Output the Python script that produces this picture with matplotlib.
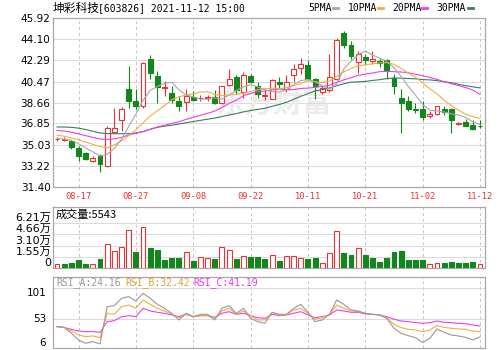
import numpy as np
import matplotlib.pyplot as plt
from matplotlib.lines import Line2D

# daily bars 2021-08-12 .. 2021-11-12
opens = [35.48, 35.45, 35.30, 34.75, 34.28, 33.63, 34.03, 33.16, 36.13, 37.11,
         39.85, 38.78, 38.34, 42.44, 40.94, 39.95, 39.44, 38.83, 38.69, 39.12,
         39.02, 39.08, 39.12, 38.58, 40.13, 40.85, 39.55, 40.94, 40.07, 39.20,
         38.98, 40.45, 39.79, 40.99, 41.66, 41.86, 40.65, 39.55, 39.72, 40.71,
         44.68, 43.59, 42.15, 42.58, 42.20, 42.20, 42.32, 40.80, 39.07, 38.78,
         38.10, 38.12, 37.48, 37.71, 38.12, 38.06, 36.82, 36.96, 36.74, 36.65]
highs = [35.70, 35.72, 35.45, 34.90, 34.40, 34.05, 34.20, 36.60, 38.20, 38.30,
         41.80, 39.85, 42.15, 42.75, 41.37, 40.50, 40.07, 39.20, 39.85, 39.64,
         39.30, 39.30, 39.72, 40.10, 41.57, 41.00, 41.28, 41.10, 40.42, 39.80,
         40.70, 40.88, 41.05, 41.94, 42.52, 42.30, 40.80, 40.10, 42.81, 44.20,
         44.82, 43.96, 43.10, 42.81, 43.10, 42.45, 42.40, 41.08, 39.85, 39.20,
         38.60, 38.83, 37.90, 38.40, 38.40, 38.20, 37.00, 37.20, 37.19, 37.19]
lows = [35.35, 35.30, 34.65, 33.60, 33.66, 33.50, 32.64, 33.10, 36.00, 36.20,
        38.20, 38.06, 38.20, 40.65, 38.66, 39.20, 38.63, 37.91, 37.91, 38.78,
        38.80, 38.80, 38.55, 38.50, 40.07, 39.35, 39.07, 40.30, 39.07, 38.90,
        38.93, 39.94, 39.55, 40.40, 41.08, 40.65, 38.98, 39.35, 39.60, 40.60,
        43.39, 42.40, 41.23, 41.90, 41.95, 41.75, 40.71, 39.35, 36.05, 37.96,
        37.75, 37.19, 37.30, 37.60, 37.60, 36.05, 36.70, 36.60, 36.27, 36.50]
closes = [35.55, 35.50, 34.80, 34.03, 33.82, 33.91, 33.37, 36.42, 36.45, 38.06,
          38.78, 38.34, 42.03, 41.17, 40.02, 40.00, 38.86, 38.34, 39.20, 38.86,
          39.07, 39.12, 38.63, 40.07, 40.71, 39.72, 40.99, 40.42, 39.35, 39.30,
          40.56, 40.22, 40.45, 41.51, 42.00, 40.71, 40.07, 39.94, 40.88, 44.05,
          43.59, 42.66, 42.81, 42.32, 42.40, 42.10, 41.45, 40.07, 38.63, 38.12,
          38.03, 37.43, 37.63, 38.34, 37.83, 37.19, 36.87, 36.67, 36.39, 36.60]

volumes = [5600, 4650, 7000, 11200, 4650, 5600, 12100, 33500, 23250, 28800,
           52500, 21400, 56300, 27000, 24600, 10700, 14000, 14000, 21400, 9300,
           14900, 14000, 12100, 28400, 24600, 12100, 16700, 15300, 14900, 11600,
           17700, 9800, 15800, 16300, 13000, 12100, 13000, 6500, 20000, 51150,
           20000, 17700, 27000, 17700, 14000, 8400, 13000, 21400, 23250, 10200,
           10200, 10700, 5600, 6000, 7000, 7900, 7000, 7000, 7900, 5543]
vol_up = [1, 0, 0, 0, 0, 1, 0, 1, 1, 1, 1, 0, 1, 0, 0, 0, 0, 0, 1, 0,
          1, 1, 0, 1, 1, 0, 1, 0, 0, 0, 1, 0, 1, 1, 1, 0, 0, 1, 1, 1,
          0, 0, 1, 0, 0, 0, 0, 0, 0, 0, 0, 0, 1, 1, 0, 0, 0, 0, 0, 1]

ma5 = [35.55, 35.50, 35.40, 35.10, 34.75, 34.40, 34.05, 34.20, 34.70, 35.50,
       36.60, 37.65, 38.85, 39.70, 40.05, 40.30, 40.40, 39.75, 39.30, 39.15,
       38.95, 38.95, 39.05, 38.95, 39.30, 39.70, 40.00, 40.20, 40.00, 39.75,
       39.60, 39.55, 39.75, 40.20, 40.55, 40.65, 40.45, 40.10, 39.80, 40.25,
       41.55, 42.20, 42.80, 43.10, 42.75, 42.50, 42.22, 41.67, 40.90, 40.05,
       39.30, 38.50, 38.00, 37.92, 37.85, 37.68, 37.57, 37.38, 37.00, 36.75]
ma10 = [35.85, 35.75, 35.60, 35.45, 35.25, 35.05, 34.85, 34.75, 35.00, 35.35,
        35.80, 36.30, 36.90, 37.50, 37.95, 38.40, 38.90, 39.15, 39.30, 39.40,
        39.55, 39.60, 39.35, 39.25, 39.30, 39.35, 39.47, 39.60, 39.75, 39.85,
        39.89, 39.85, 39.95, 40.10, 40.30, 40.55, 40.45, 40.40, 40.50, 40.90,
        41.30, 41.60, 41.80, 41.92, 42.00, 42.08, 42.10, 41.95, 41.60, 41.20,
        40.85, 40.35, 39.85, 39.40, 38.85, 38.40, 38.00, 37.65, 37.45, 37.30]
ma20 = [36.25, 36.20, 36.10, 35.95, 35.80, 35.65, 35.52, 35.48, 35.52, 35.65,
        35.85, 36.00, 36.15, 36.35, 36.55, 36.70, 36.85, 37.00, 37.20, 37.38,
        37.55, 37.73, 37.92, 38.23, 38.57, 38.86, 39.24, 39.44, 39.59, 39.65,
        39.74, 39.83, 39.75, 39.77, 39.87, 39.90, 39.97, 40.05, 40.13, 40.39,
        40.61, 40.79, 41.00, 41.11, 41.20, 41.32, 41.34, 41.32, 41.29, 41.23,
        41.10, 40.96, 40.82, 40.66, 40.45, 40.28, 40.12, 39.95, 39.73, 39.36]
ma30 = [36.55, 36.55, 36.52, 36.45, 36.33, 36.18, 36.03, 35.98, 35.97, 35.97,
        35.98, 36.03, 36.15, 36.35, 36.52, 36.62, 36.70, 36.80, 36.92, 37.02,
        37.12, 37.22, 37.32, 37.45, 37.58, 37.70, 37.85, 37.97, 38.07, 38.16,
        38.33, 38.49, 38.68, 38.93, 39.20, 39.42, 39.65, 39.77, 39.91, 40.11,
        40.27, 40.42, 40.44, 40.48, 40.56, 40.63, 40.72, 40.77, 40.76, 40.73,
        40.70, 40.64, 40.61, 40.55, 40.45, 40.37, 40.23, 40.11, 40.01, 39.92]

rsi_a = [40.3, 39.0, 29.7, 19.2, 13.9, 16.6, 12.9, 72.0, 73.5, 85.2,
         87.8, 81.0, 93.0, 85.2, 75.7, 69.3, 61.4, 50.9, 61.4, 56.1,
         59.8, 59.8, 50.9, 69.3, 73.5, 61.4, 69.3, 53.5, 48.2, 45.6,
         63.0, 59.8, 59.8, 69.3, 75.7, 63.0, 48.2, 50.9, 59.8, 82.5,
         75.7, 66.7, 65.1, 61.4, 59.8, 58.8, 53.5, 37.7, 29.7, 26.0,
         22.9, 15.0, 21.8, 36.6, 31.3, 27.1, 25.5, 23.4, 19.2, 24.16]
rsi_b = [40.3, 39.0, 33.4, 27.1, 24.5, 25.5, 22.9, 61.4, 59.8, 72.0,
         74.6, 69.3, 82.5, 75.7, 69.3, 65.1, 59.8, 54.5, 59.8, 56.1,
         57.7, 57.7, 53.5, 65.1, 69.3, 59.8, 65.1, 57.7, 50.9, 50.9,
         62.5, 58.8, 58.8, 66.7, 69.3, 61.4, 52.4, 54.5, 59.8, 74.6,
         69.3, 65.1, 64.0, 61.4, 59.8, 58.8, 54.5, 44.0, 38.7, 36.1,
         35.0, 32.4, 35.0, 41.9, 39.2, 37.7, 36.6, 36.1, 33.4, 32.42]
rsi_c = [40.3, 39.0, 36.0, 33.4, 32.4, 32.4, 31.3, 48.2, 49.8, 56.1,
         57.7, 56.1, 69.3, 65.1, 63.0, 61.4, 58.8, 56.1, 59.8, 56.1,
         57.7, 57.7, 55.1, 61.4, 64.0, 59.8, 61.4, 57.7, 54.5, 53.5,
         59.8, 57.7, 58.8, 61.4, 64.0, 58.8, 54.5, 56.1, 58.8, 66.7,
         65.1, 63.0, 63.0, 60.4, 59.8, 58.8, 56.1, 52.0, 49.3, 48.2,
         46.6, 45.6, 46.6, 49.3, 47.2, 46.6, 45.6, 45.0, 42.9, 41.19]

date_idx = [3, 11, 19, 27, 35, 43, 51, 59]
date_labels = ['08-17', '08-27', '09-08', '09-22', '10-11', '10-21', '11-02', '11-12']
price_ticks = [31.40, 33.22, 35.03, 36.85, 38.66, 40.47, 42.29, 44.10, 45.92]
vol_ticks = [0, 15500, 31000, 46600, 62100]
vol_labels = ['0', '1.55万', '3.10万', '4.66万', '6.21万']
rsi_ticks = [6, 53, 101]

RED = '#ee2f36'
GREEN = '#11871d'
C5, C10, C20, C30 = '#a8a8a8', '#f0b03c', '#f03cf0', '#3a7f5c'
BORDER = '#a8a8a8'
GRID = '#dadada'
CJK = ['Noto Sans CJK SC', 'DejaVu Sans']

W, H = 499, 350
fig = plt.figure(figsize=(W / 100, H / 100), dpi=100)

def box(left, top, right, bottom):
    return [left / W, 1 - bottom / H, (right - left) / W, (bottom - top) / H]

ax = fig.add_axes(box(53.3, 18.3, 485, 186.7))
axv = fig.add_axes(box(53.3, 206.7, 485, 267.7))
axr = fig.add_axes(box(53.3, 276.7, 485, 348.3))

x = np.arange(len(closes))
xlim = (-0.52, 59.7)

for a in (ax, axv, axr):
    a.set_xlim(*xlim)
    for s in a.spines.values():
        s.set_color(BORDER)
        s.set_linewidth(0.9)
    for d in date_idx:
        a.axvline(d, color='#c4c4c4', lw=0.7, ls=(0, (3, 3)), zorder=0)
    a.tick_params(length=0)

# --- price panel
ax.set_ylim(31.40, 45.92)
for t in price_ticks[1:-1]:
    ax.axhline(t, color=GRID, lw=0.7, zorder=0)
ax.text(0.51, 0.5, '东方财富', transform=ax.transAxes, ha='center', va='center',
        fontsize=21, fontweight='bold', color='#ececec', family=CJK, zorder=0)

o = np.array(opens)
c = np.array(closes)
up = c >= o
ax.vlines(x, lows, highs, colors=[RED if u else GREEN for u in up], lw=0.8, zorder=2)
ax.bar(x, np.maximum(np.abs(c - o), 0.03), 0.68, bottom=np.minimum(o, c),
       color=['white' if u else GREEN for u in up],
       edgecolor=[RED if u else GREEN for u in up], lw=0.8, zorder=3)

ax.plot(x, ma30, color=C30, lw=0.8, zorder=4)
ax.plot(x, ma20, color=C20, lw=0.8, zorder=4)
ax.plot(x, ma10, color=C10, lw=0.8, zorder=4)
ax.plot(x, ma5, color=C5, lw=0.8, zorder=4)

ax.set_yticks(price_ticks)
ax.set_yticklabels([f'{t:.2f}' for t in price_ticks], fontsize=7.5)
ax.tick_params(axis='y', pad=2)
ax.set_xticks(date_idx)
ax.set_xticklabels(date_labels, fontsize=6.3, color=RED, family='DejaVu Sans Mono')
ax.tick_params(axis='x', pad=3.5)

# --- volume panel
axv.set_ylim(0, 85200)
for t in vol_ticks[1:]:
    axv.axhline(t, color=GRID, lw=0.7, zorder=0)
axv.bar(x, volumes, 0.68,
        color=['white' if u else GREEN for u in vol_up],
        edgecolor=[RED if u else GREEN for u in vol_up], lw=0.8, zorder=3)
axv.set_xticks([])
axv.set_yticks(vol_ticks)
axv.set_yticklabels(vol_labels, fontsize=8, family=['DejaVu Sans', 'Noto Sans CJK SC'])
axv.tick_params(axis='y', pad=1.5)
for lab in axv.get_yticklabels():
    lab.set_va('bottom')
axv.text(0.005, 0.87, f'成交量:{volumes[-1]}', transform=axv.transAxes,
         fontsize=8, family=CJK, va='center', ha='left')

# --- RSI panel
axr.set_ylim(6, 119.4)
for t in rsi_ticks[1:]:
    axr.axhline(t, color=GRID, lw=0.7, zorder=0)
axr.plot(x, rsi_c, color=C20, lw=0.8)
axr.plot(x, rsi_b, color=C10, lw=0.8)
axr.plot(x, rsi_a, color='#999999', lw=0.8)
axr.set_xticks([])
axr.set_yticks(rsi_ticks)
axr.set_yticklabels([str(t) for t in rsi_ticks], fontsize=7.5)
axr.tick_params(axis='y', pad=5)
for lab, va in zip(axr.get_yticklabels(), ['bottom', 'center', 'top']):
    lab.set_va(va)
for xf, txt, col in [(0.006, f'RSI_A:{rsi_a[-1]:.2f}', '#999999'),
                     (0.166, f'RSI_B:{rsi_b[-1]:.2f}', '#e0a030'),
                     (0.324, f'RSI_C:{rsi_c[-1]:.2f}', '#ee33ee')]:
    axr.text(xf, 0.915, txt, transform=axr.transAxes, color=col, fontsize=7,
             family='DejaVu Sans Mono', va='center', ha='left')

# --- header: title and MA legend
ty = 1 - 8 / H
fig.text(53 / W, ty, '坤彩科技', fontsize=8.5, family=CJK, va='center')
fig.text(98 / W, ty, '[603826] 2021-11-12 15:00', fontsize=7,
         family='DejaVu Sans Mono', va='center')
for lx, name, dx, col in [(308, '5PMA', 333, C5), (348, '10PMA', 378, C10),
                          (392, '20PMA', 422, C20), (436, '30PMA', 468, C30)]:
    fig.text(lx / W, ty, name, fontsize=7, family='DejaVu Sans Mono', va='center')
    fig.add_artist(Line2D([dx / W, (dx + 5) / W], [ty, ty], color=col, lw=2,
                          transform=fig.transFigure))

fig.savefig('out.png', dpi=100, facecolor='white')
